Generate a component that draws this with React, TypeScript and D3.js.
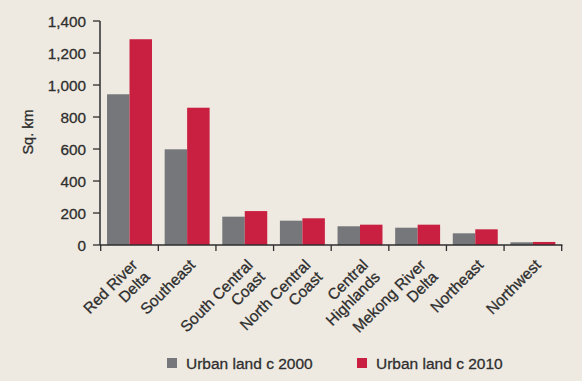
import React from "react";
import * as d3 from "d3";

const categories: string[][] = [
  ["Red River", "Delta"],
  ["Southeast"],
  ["South Central", "Coast"],
  ["North Central", "Coast"],
  ["Central", "Highlands"],
  ["Mekong River", "Delta"],
  ["Northeast"],
  ["Northwest"],
];
const urban2000: number[] = [942, 598, 177, 152, 117, 108, 73, 17];
const urban2010: number[] = [1286, 858, 212, 167, 127, 127, 98, 19];
const yTicks: number[] = [0, 200, 400, 600, 800, 1000, 1200, 1400];
const seriesNames: string[] = ["Urban land c 2000", "Urban land c 2010"];

const W = 582;
const H = 381;
const BG = "#EEEAE1";
const GRAY = "#75777B";
const RED = "#C91F40";
const INK = "#2E2E2E";
const FONT = "'Liberation Sans', Arial, Helvetica, sans-serif";

export default function App() {
  const keys = categories.map((c) => c.join(" "));
  const x = d3
    .scaleBand<string>()
    .domain(keys)
    .range([100.7, 561.7])
    .paddingInner(0.22)
    .paddingOuter(0.11);
  const sub = d3
    .scaleBand<number>()
    .domain([0, 1])
    .range([0, x.bandwidth()])
    .padding(0);
  const y = d3.scaleLinear().domain([0, 1400]).range([245, 21]);
  const step = x.step();
  const boundaries = keys.map((k) => (x(k) as number) - (step - x.bandwidth()) / 2);
  boundaries.push(561.7);
  const fmt = d3.format(",");
  const series = [urban2000, urban2010];
  const colors = [GRAY, RED];
  const lineH = 17;
  const textStyle = { stroke: INK, strokeWidth: 0.3 };

  return (
    <svg
      width={W}
      height={H}
      style={{ position: "absolute", left: 0, top: 0, background: BG }}
      fontFamily={FONT}
    >
      <rect x={0} y={0} width={W} height={H} fill={BG} />
      {/* bars */}
      {keys.map((k, i) =>
        series.map((s, j) => (
          <rect
            key={k + j}
            x={(x(k) as number) + (sub(j) as number)}
            y={y(s[i])}
            width={sub.bandwidth()}
            height={y(0) - y(s[i])}
            fill={colors[j]}
          />
        ))
      )}
      {/* y axis */}
      <line x1={100} x2={100} y1={y(1400)} y2={y(0)} stroke={INK} strokeWidth={1.5} />
      {yTicks.map((t) => (
        <g key={t}>
          <line x1={93} x2={100} y1={y(t)} y2={y(t)} stroke={INK} strokeWidth={1.3} />
          <text
            x={86}
            y={y(t)}
            dy="0.36em"
            textAnchor="end"
            fontSize={15.3}
            fill={INK}
            style={textStyle}
          >
            {fmt(t)}
          </text>
        </g>
      ))}
      <text
        transform={`translate(32.5,132) rotate(-90)`}
        textAnchor="middle"
        fontSize={14.5}
        fill={INK}
        style={textStyle}
      >
        Sq. km
      </text>
      {/* x axis */}
      <line x1={100} x2={562.5} y1={y(0)} y2={y(0)} stroke={INK} strokeWidth={1.5} />
      {boundaries.map((b, i) => (
        <line key={i} x1={b} x2={b} y1={y(0)} y2={y(0) + 6} stroke={INK} strokeWidth={1.3} />
      ))}
      {categories.map((lines, i) => {
        const cx = (x(keys[i]) as number) + x.bandwidth() / 2;
        return (
          <g key={keys[i]} transform={`translate(${cx + 9},266) rotate(-45)`}>
            {lines.map((ln, li) => (
              <text
                key={li}
                x={0}
                y={li * lineH}
                textAnchor="end"
                fontSize={15.5}
                fill={INK}
                style={textStyle}
              >
                {ln}
              </text>
            ))}
          </g>
        );
      })}
      {/* legend */}
      {seriesNames.map((n, j) => {
        const lx = j === 0 ? 167 : 357;
        return (
          <g key={n}>
            <rect x={lx} y={358} width={10} height={10} fill={colors[j]} />
            <text x={lx + 19} y={368.5} fontSize={15.5} fill={INK} style={textStyle}>
              {n}
            </text>
          </g>
        );
      })}
    </svg>
  );
}
